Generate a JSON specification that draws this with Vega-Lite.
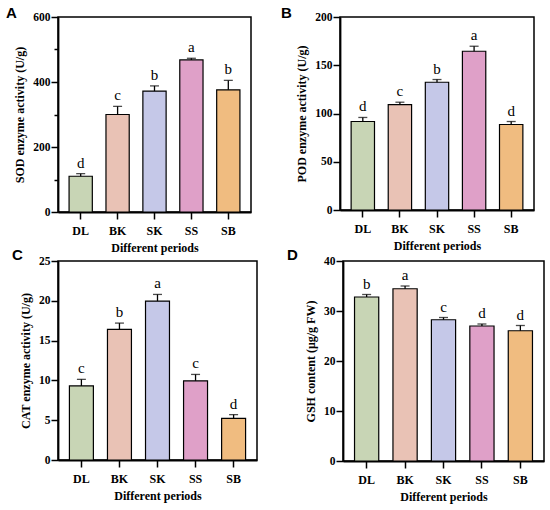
{
  "$schema": "https://vega.github.io/schema/vega-lite/v6.json",
  "background": "white",
  "padding": 5,
  "spacing": -7,
  "config": {
    "view": {"stroke": "black", "strokeWidth": 1.5},
    "axis": {
      "labelFont": "Liberation Serif",
      "labelFontWeight": "bold",
      "labelFontSize": 11.5,
      "labelColor": "black",
      "titleFont": "Liberation Serif",
      "titleFontWeight": "bold",
      "titleFontSize": 12,
      "titleColor": "black",
      "domainColor": "black",
      "domainWidth": 1.8,
      "tickColor": "black",
      "tickWidth": 1.5,
      "tickSize": 7,
      "grid": false
    },
    "axisX": {"labelAngle": 0, "labelPadding": 6, "labelFontSize": 12, "titlePadding": 6},
    "axisY": {"labelPadding": 1, "titlePadding": 6},
    "title": {
      "font": "Liberation Sans",
      "fontWeight": "bold",
      "fontSize": 15,
      "color": "black",
      "anchor": "start",
      "frame": "group",
      "offset": -10
    }
  },
  "datasets": {
    "sod": [
      {"period": "DL", "mean": 110, "upper": 118, "letter": "d"},
      {"period": "BK", "mean": 300, "upper": 325, "letter": "c"},
      {"period": "SK", "mean": 372, "upper": 388, "letter": "b"},
      {"period": "SS", "mean": 468, "upper": 473, "letter": "a"},
      {"period": "SB", "mean": 376, "upper": 405, "letter": "b"}
    ],
    "pod": [
      {"period": "DL", "mean": 91.7, "upper": 95.9, "letter": "d"},
      {"period": "BK", "mean": 109.3, "upper": 111.7, "letter": "c"},
      {"period": "SK", "mean": 132.4, "upper": 135.2, "letter": "b"},
      {"period": "SS", "mean": 164.5, "upper": 169.7, "letter": "a"},
      {"period": "SB", "mean": 88.6, "upper": 91.7, "letter": "d"}
    ],
    "cat": [
      {"period": "DL", "mean": 9.3, "upper": 10.13, "letter": "c"},
      {"period": "BK", "mean": 16.4, "upper": 17.2, "letter": "b"},
      {"period": "SK", "mean": 19.97, "upper": 20.8, "letter": "a"},
      {"period": "SS", "mean": 9.95, "upper": 10.75, "letter": "c"},
      {"period": "SB", "mean": 5.23, "upper": 5.7, "letter": "d"}
    ],
    "gsh": [
      {"period": "DL", "mean": 32.8, "upper": 33.3, "letter": "b"},
      {"period": "BK", "mean": 34.45, "upper": 35.0, "letter": "a"},
      {"period": "SK", "mean": 28.25, "upper": 28.7, "letter": "c"},
      {"period": "SS", "mean": 27.0, "upper": 27.4, "letter": "d"},
      {"period": "SB", "mean": 26.05, "upper": 27.1, "letter": "d"}
    ]
  },
  "vconcat": [
    {
      "spacing": 28,
      "hconcat": [
        {
          "title": {"text": "A", "dx": -52},
          "width": 193,
          "height": 195,
          "data": {"name": "sod"},
          "encoding": {
            "x": {"field": "period", "type": "nominal", "sort": null, "title": "Different periods",
              "scale": {"paddingInner": 0.37, "paddingOuter": 0.3}},
            "y": {"field": "mean", "type": "quantitative", "title": "SOD enzyme activity (U/g)",
              "scale": {"domain": [0, 600], "nice": false},
              "axis": {"values": [0, 100, 200, 300, 400, 500, 600],
                "labelExpr": "datum.value % 200 === 0 ? datum.label : ''",
                "tickSize": {"condition": {"test": "datum.value % 200 === 0", "value": 7}, "value": 4}}}
          },
          "layer": [
            {"mark": {"type": "bar", "stroke": "black", "strokeWidth": 1.2},
             "encoding": {"color": {"field": "period", "type": "nominal", "sort": null, "legend": null,
               "scale": {"domain": ["DL", "BK", "SK", "SS", "SB"], "range": ["#c8d5b5", "#e9c2b5", "#c5c8e8", "#dfa0c8", "#f0bc80"]}}}},
            {"mark": {"type": "rule", "color": "black", "strokeWidth": 1.3},
             "encoding": {"y": {"field": "mean", "type": "quantitative"}, "y2": {"field": "upper"}}},
            {"mark": {"type": "tick", "color": "black", "thickness": 1.3, "size": 9},
             "encoding": {"y": {"field": "upper", "type": "quantitative"}}},
            {"mark": {"type": "text", "font": "Liberation Serif", "fontSize": 15, "baseline": "bottom", "dy": -3, "color": "black"},
             "encoding": {"y": {"field": "upper", "type": "quantitative"}, "text": {"field": "letter"}}}
          ]
        },
        {
          "title": {"text": "B", "dx": -59},
          "width": 194,
          "height": 193,
          "data": {"name": "pod"},
          "encoding": {
            "x": {"field": "period", "type": "nominal", "sort": null, "title": "Different periods",
              "scale": {"paddingInner": 0.37, "paddingOuter": 0.3}},
            "y": {"field": "mean", "type": "quantitative", "title": "POD enzyme activity (U/g)",
              "scale": {"domain": [0, 200], "nice": false},
              "axis": {"values": [0, 50, 100, 150, 200]}}
          },
          "layer": [
            {"mark": {"type": "bar", "stroke": "black", "strokeWidth": 1.2},
             "encoding": {"color": {"field": "period", "type": "nominal", "sort": null, "legend": null,
               "scale": {"domain": ["DL", "BK", "SK", "SS", "SB"], "range": ["#c8d5b5", "#e9c2b5", "#c5c8e8", "#dfa0c8", "#f0bc80"]}}}},
            {"mark": {"type": "rule", "color": "black", "strokeWidth": 1.3},
             "encoding": {"y": {"field": "mean", "type": "quantitative"}, "y2": {"field": "upper"}}},
            {"mark": {"type": "tick", "color": "black", "thickness": 1.3, "size": 9},
             "encoding": {"y": {"field": "upper", "type": "quantitative"}}},
            {"mark": {"type": "text", "font": "Liberation Serif", "fontSize": 15, "baseline": "bottom", "dy": -3, "color": "black"},
             "encoding": {"y": {"field": "upper", "type": "quantitative"}, "text": {"field": "letter"}}}
          ]
        }
      ]
    },
    {
      "spacing": 28,
      "hconcat": [
        {
          "title": {"text": "C", "dx": -46, "offset": -8},
          "width": 199,
          "height": 199,
          "data": {"name": "cat"},
          "encoding": {
            "x": {"field": "period", "type": "nominal", "sort": null, "title": "Different periods",
              "scale": {"paddingInner": 0.37, "paddingOuter": 0.3}},
            "y": {"field": "mean", "type": "quantitative", "title": "CAT enzyme activity (U/g)",
              "scale": {"domain": [0, 25], "nice": false},
              "axis": {"values": [0, 5, 10, 15, 20, 25]}}
          },
          "layer": [
            {"mark": {"type": "bar", "stroke": "black", "strokeWidth": 1.2},
             "encoding": {"color": {"field": "period", "type": "nominal", "sort": null, "legend": null,
               "scale": {"domain": ["DL", "BK", "SK", "SS", "SB"], "range": ["#c8d5b5", "#e9c2b5", "#c5c8e8", "#dfa0c8", "#f0bc80"]}}}},
            {"mark": {"type": "rule", "color": "black", "strokeWidth": 1.3},
             "encoding": {"y": {"field": "mean", "type": "quantitative"}, "y2": {"field": "upper"}}},
            {"mark": {"type": "tick", "color": "black", "thickness": 1.3, "size": 9},
             "encoding": {"y": {"field": "upper", "type": "quantitative"}}},
            {"mark": {"type": "text", "font": "Liberation Serif", "fontSize": 15, "baseline": "bottom", "dy": -3, "color": "black"},
             "encoding": {"y": {"field": "upper", "type": "quantitative"}, "text": {"field": "letter"}}}
          ]
        },
        {
          "title": {"text": "D", "dx": -56, "offset": -8},
          "width": 201,
          "height": 200,
          "data": {"name": "gsh"},
          "encoding": {
            "x": {"field": "period", "type": "nominal", "sort": null, "title": "Different periods",
              "scale": {"paddingInner": 0.37, "paddingOuter": 0.3}},
            "y": {"field": "mean", "type": "quantitative", "title": "GSH content (μg/g FW)",
              "scale": {"domain": [0, 40], "nice": false},
              "axis": {"values": [0, 10, 20, 30, 40]}}
          },
          "layer": [
            {"mark": {"type": "bar", "stroke": "black", "strokeWidth": 1.2},
             "encoding": {"color": {"field": "period", "type": "nominal", "sort": null, "legend": null,
               "scale": {"domain": ["DL", "BK", "SK", "SS", "SB"], "range": ["#c8d5b5", "#e9c2b5", "#c5c8e8", "#dfa0c8", "#f0bc80"]}}}},
            {"mark": {"type": "rule", "color": "black", "strokeWidth": 1.3},
             "encoding": {"y": {"field": "mean", "type": "quantitative"}, "y2": {"field": "upper"}}},
            {"mark": {"type": "tick", "color": "black", "thickness": 1.3, "size": 9},
             "encoding": {"y": {"field": "upper", "type": "quantitative"}}},
            {"mark": {"type": "text", "font": "Liberation Serif", "fontSize": 15, "baseline": "bottom", "dy": -3, "color": "black"},
             "encoding": {"y": {"field": "upper", "type": "quantitative"}, "text": {"field": "letter"}}}
          ]
        }
      ]
    }
  ]
}
